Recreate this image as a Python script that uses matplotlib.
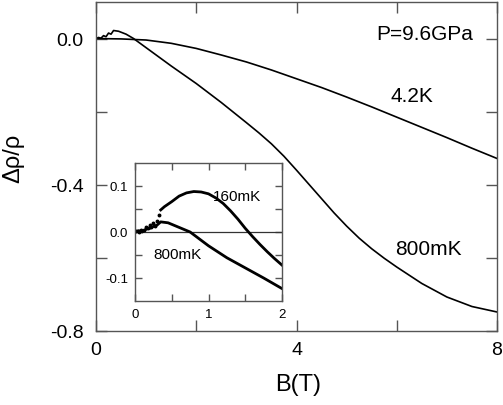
import matplotlib
matplotlib.use("Agg")
import matplotlib.pyplot as plt
from matplotlib.ticker import FixedLocator, FixedFormatter

plt.rcParams['font.family'] = ['Liberation Sans', 'DejaVu Sans']
plt.rcParams['axes.unicode_minus'] = False

# ---- main panel data ----
B_42K = [0, 0.5, 1, 1.5, 2, 2.5, 3, 3.5, 4, 4.5, 5, 5.5, 6, 6.5, 7, 7.5, 8]
r_42K = [0, -0.001, -0.004, -0.013, -0.027, -0.045, -0.064, -0.086, -0.110,
         -0.134, -0.160, -0.187, -0.215, -0.243, -0.271, -0.300, -0.328]

B_800 = [0, 0.05, 0.1, 0.15, 0.2, 0.25, 0.3, 0.35, 0.45, 0.6, 0.75, 1, 1.5, 2,
         2.5, 3, 3.25, 3.5, 3.75, 4, 4.25, 4.5, 4.75, 5, 5.25, 5.5, 5.75, 6,
         6.5, 7, 7.5, 8]
r_800 = [0, 0.003, 0.001, 0.008, 0.005, 0.015, 0.012, 0.022, 0.020, 0.012, 0.0,
         -0.025, -0.075, -0.123, -0.175, -0.230, -0.258, -0.288, -0.322, -0.360,
         -0.399, -0.438, -0.477, -0.513, -0.546, -0.575, -0.601, -0.625,
         -0.670, -0.707, -0.733, -0.748]

# ---- inset data ----
Bi_800 = [0, 0.05, 0.1, 0.15, 0.2, 0.25, 0.3, 0.35, 0.45, 0.6, 0.75, 1, 1.25,
          1.5, 1.75, 2]
ri_800 = [0, 0.003, 0.0, 0.006, 0.008, 0.012, 0.015, 0.022, 0.020, 0.010, 0.0,
          -0.030, -0.056, -0.078, -0.100, -0.123]

Bi_160_lo = [0.02, 0.05, 0.08, 0.12, 0.15, 0.18, 0.2, 0.22, 0.25, 0.27, 0.3, 0.32]
ri_160_lo = [0.002, 0.0, 0.004, 0.005, 0.010, 0.008, 0.015, 0.010, 0.020,
             0.014, 0.025, 0.038]

Bi_160 = [0.35, 0.4, 0.5, 0.6, 0.7, 0.8, 0.9, 1.0, 1.1, 1.2, 1.3, 1.4, 1.5,
          1.6, 1.7, 1.8, 1.9, 2.0]
ri_160 = [0.048, 0.055, 0.066, 0.078, 0.085, 0.088, 0.087, 0.083, 0.074, 0.062,
          0.046, 0.028, 0.008, -0.010, -0.027, -0.043, -0.058, -0.072]

main_xticks = [0, 2, 4, 6, 8]
main_xlabels = ['0', '', '4', '', '8']
main_yticks = [-0.8, -0.6, -0.4, -0.2, 0.0]
main_ylabels = ['-0.8', '', '-0.4', '', '0.0']
ins_xticks = [0, 0.5, 1, 1.5, 2]
ins_xlabels = ['0', '', '1', '', '2']
ins_yticks = [-0.1, -0.05, 0.0, 0.05, 0.1]
ins_ylabels = ['-0.1', '', '0.0', '', '0.1']

spine_col = '#555555'

fig = plt.figure(figsize=(5.03, 4.06), dpi=100)
ax = fig.add_axes([96/503, 74/406, 401/503, 329/406])
ax.plot(B_42K, r_42K, color='black', lw=1.2)
ax.plot(B_800, r_800, color='black', lw=1.2)
ax.set_xlim(0, 8)
ax.set_ylim(-0.8, 0.1)
ax.xaxis.set_major_locator(FixedLocator(main_xticks))
ax.xaxis.set_major_formatter(FixedFormatter(main_xlabels))
ax.yaxis.set_major_locator(FixedLocator(main_yticks))
ax.yaxis.set_major_formatter(FixedFormatter(main_ylabels))
ax.tick_params(direction='in', length=8, width=1, top=True, right=True,
               labelsize=14, color=spine_col)
ax.tick_params(axis='x', pad=7)
ax.tick_params(axis='y', pad=9)
for s in ax.spines.values():
    s.set_color(spine_col)
    s.set_linewidth(1.0)
ax.set_xlabel('B(T)', fontsize=17)
ax.set_ylabel('Δρ/ρ', fontsize=17)
ax.xaxis.set_label_coords(0.505, -0.128)
ax.yaxis.set_label_coords(-0.18, 0.529)

fig.text(425/503, 1 - 35/406, 'P=9.6GPa', fontsize=15, ha='center', va='center')
fig.text(412/503, 1 - 97/406, '4.2K', fontsize=15, ha='center', va='center')
fig.text(428/503, 1 - 250/406, '800mK', fontsize=15, ha='center', va='center')

# ---- inset ----
axi = fig.add_axes([135/503, 104/406, 147/503, 138/406])
axi.axhline(0, color='#333333', lw=0.9)
axi.plot(Bi_800, ri_800, color='black', lw=2.0)
axi.plot(Bi_160_lo, ri_160_lo, ls='none', marker='o', ms=1.8, color='black')
axi.plot(Bi_160, ri_160, color='black', lw=2.0)
axi.set_xlim(0, 2)
axi.set_ylim(-0.15, 0.15)
axi.xaxis.set_major_locator(FixedLocator(ins_xticks))
axi.xaxis.set_major_formatter(FixedFormatter(ins_xlabels))
axi.yaxis.set_major_locator(FixedLocator(ins_yticks))
axi.yaxis.set_major_formatter(FixedFormatter(ins_ylabels))
axi.tick_params(direction='in', length=5, width=1, top=True, right=True,
                labelsize=9.5, color=spine_col, pad=5)
for s in axi.spines.values():
    s.set_color(spine_col)
    s.set_linewidth(1.0)
fig.text(237/503, 1 - 197/406, '160mK', fontsize=11, ha='center', va='center')
fig.text(177/503, 1 - 255/406, '800mK', fontsize=11, ha='center', va='center')

fig.savefig('out.png', dpi=100)
